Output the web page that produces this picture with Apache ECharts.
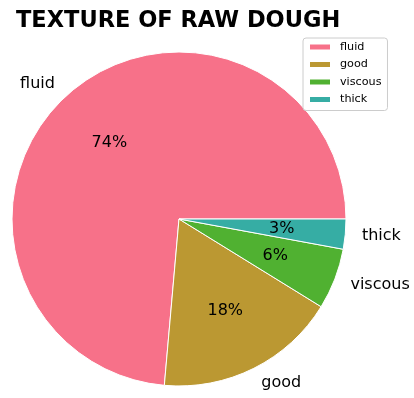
<!DOCTYPE html>
<html>
<head>
<meta charset="utf-8">
<script src="https://cdn.jsdelivr.net/npm/echarts@6/dist/echarts.min.js"></script>
<style>
  html, body { margin: 0; padding: 0; background: #fff; }
  #chart { width: 414px; height: 398px; }
</style>
</head>
<body>
<div id="chart"></div>
<script>
// Texture categories and their shares (percent)
const categories = ['fluid', 'good', 'viscous', 'thick'];
const shares = [73.6, 17.6, 5.9, 2.9];
const colors = ['#f77189', '#bb9832', '#50b131', '#36ada4'];

const FONT = 'DejaVu Sans';
const cx = 179, cy = 219, R = 167;

const pieData = categories.map((name, i) => ({ name, value: shares[i] }));

const chart = echarts.init(document.getElementById('chart'), null, { renderer: 'canvas' });
chart.setOption({
  animation: false,
  color: colors,
  title: {
    text: 'TEXTURE OF RAW DOUGH',
    left: 11,
    top: 5,
    textStyle: { fontFamily: FONT, fontSize: 22.5, fontWeight: 'bold', color: '#000' }
  },
  legend: {
    orient: 'vertical',
    left: 303,
    top: 38,
    icon: 'rect',
    itemWidth: 22,
    itemHeight: 7,
    itemGap: 5.5,
    padding: [3, 6, 5, 5],
    borderColor: '#cccccc',
    borderWidth: 1,
    borderRadius: 3,
    backgroundColor: 'rgba(255,255,255,0.8)',
    textStyle: { fontFamily: FONT, fontSize: 11.2, color: '#000', lineHeight: 12, padding: [0, 0, 0, 4] },
    data: categories
  },
  series: [
    {
      // slices with the category names outside the rim
      type: 'pie',
      center: [cx, cy],
      radius: R,
      startAngle: 0,
      clockwise: false,
      avoidLabelOverlap: false,
      data: pieData,
      itemStyle: { borderColor: '#ffffff', borderWidth: 1 },
      label: {
        show: true,
        position: 'outside',
        formatter: '{b}',
        fontFamily: FONT,
        fontSize: 16,
        color: '#000',
        distanceToLabelLine: 0
      },
      labelLine: { show: false, length: R * 0.1, length2: 0 },
      emphasis: { disabled: true }
    },
    {
      // invisible ring carrying the percentage labels at 0.6 of the radius
      type: 'pie',
      center: [cx, cy],
      radius: R * 1.2,
      startAngle: 0,
      clockwise: false,
      silent: true,
      data: pieData,
      itemStyle: { color: 'rgba(0,0,0,0)' },
      label: {
        show: true,
        position: 'inside',
        formatter: p => Math.round(p.percent) + '%',
        fontFamily: FONT,
        fontSize: 16,
        color: '#000'
      },
      labelLine: { show: false },
      emphasis: { disabled: true }
    }
  ]
});
</script>
</body>
</html>
